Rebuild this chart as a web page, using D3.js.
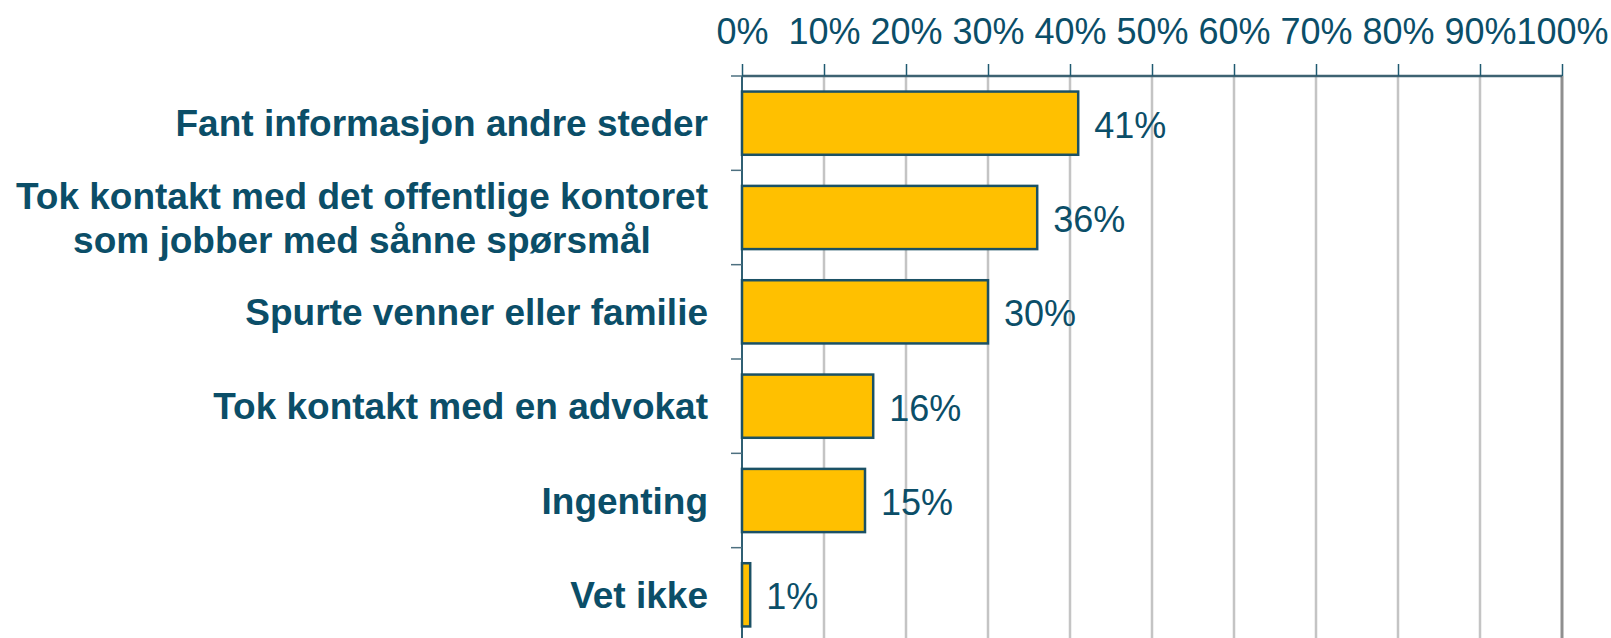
<!DOCTYPE html>
<html>
<head>
<meta charset="utf-8">
<script src="https://cdn.jsdelivr.net/npm/d3@7"></script>
<style>
    body { margin: 0; background: #ffffff; }
    svg { display: block; font-family: "Liberation Sans", Arial, sans-serif; }
</style>
</head>
<body>
<div id="chart"></div>
<script>
// data
const categories = [
    "Fant informasjon andre steder",
    "Tok kontakt med det offentlige kontoret\nsom jobber med sånne spørsmål",
    "Spurte venner eller familie",
    "Tok kontakt med en advokat",
    "Ingenting",
    "Vet ikke"
];
const values = [41, 36, 30, 16, 15, 1];
const tickValues = [0, 10, 20, 30, 40, 50, 60, 70, 80, 90, 100];

const width = 1611, height = 638;
const textColor = "#0b4e68";

var svg = d3.select("#chart")
    .append("svg")
    .attr("width", width)
    .attr("height", height);

var x = d3.scaleLinear()
    .domain([0, 100])
    .range([742, 1562]);

var y = d3.scaleBand()
    .domain(categories)
    .range([76, 642])
    .paddingInner(0.33)
    .paddingOuter(0.165);

// vertical gridlines
svg.append("g")
    .selectAll("line")
    .data(tickValues.slice(1))
    .enter()
    .append("line")
    .attr("x1", d => x(d))
    .attr("x2", d => x(d))
    .attr("y1", y.range()[0])
    .attr("y2", height)
    .style("stroke", d => d == 100 ? "#8f8f8f" : "#c4c4c4")
    .style("stroke-width", d => d == 100 ? 3 : 2.5);

// top axis
var xAxis = d3.axisTop(x)
    .tickValues(tickValues)
    .tickSize(12)
    .tickPadding(20)
    .tickFormat(d => d + "%");

var gx = svg.append("g")
    .attr("transform", "translate(0," + y.range()[0] + ")")
    .call(xAxis);
gx.select(".domain")
    .attr("d", "M" + x(0) + ",0H" + x(100))
    .style("stroke", "#3d6272")
    .style("stroke-width", 2.5);
gx.selectAll(".tick line")
    .style("stroke", "#1f5a70")
    .style("stroke-width", 1.5);
gx.selectAll(".tick text")
    .style("font-size", "36px")
    .style("font-family", "Liberation Sans, Arial, sans-serif")
    .style("fill", textColor);

// left axis line and category ticks between bands
var step = y.step();
var bounds = d3.range(categories.length + 1).map(i => y.range()[0] + i * step);

svg.append("line")
    .attr("x1", x(0))
    .attr("x2", x(0))
    .attr("y1", y.range()[0])
    .attr("y2", height)
    .style("stroke", "#2f5f73")
    .style("stroke-width", 2);

svg.append("g")
    .selectAll("line")
    .data(bounds)
    .enter()
    .append("line")
    .attr("x1", x(0) - 11)
    .attr("x2", x(0))
    .attr("y1", d => d)
    .attr("y2", d => d)
    .style("stroke", "#4d7080")
    .style("stroke-width", 1.5);

// bars
svg.append("g")
    .selectAll("rect")
    .data(categories)
    .enter()
    .append("rect")
    .attr("x", x(0))
    .attr("y", d => y(d))
    .attr("width", (d, i) => x(values[i]) - x(0))
    .attr("height", y.bandwidth())
    .style("fill", "#ffc000")
    .style("stroke", "#1b5165")
    .style("stroke-width", 2.5);

// value labels
svg.append("g")
    .selectAll("text")
    .data(categories)
    .enter()
    .append("text")
    .attr("x", (d, i) => x(values[i]) + 16)
    .attr("y", d => y(d) + y.bandwidth() / 2)
    .attr("dy", "0.4em")
    .style("font-size", "36px")
    .style("fill", textColor)
    .text((d, i) => values[i] + "%");

// category labels, multi-line ones centred as a block that ends at labelRight
const labelRight = 708;
const lineHeight = 43.5;
var labels = svg.append("g")
    .selectAll("text")
    .data(categories)
    .enter()
    .append("text")
    .attr("text-anchor", "middle")
    .style("font-size", "37px")
    .style("font-weight", "bold")
    .style("fill", textColor);

labels.each(function (d) {
    let lines = d.split("\n");
    let t = d3.select(this);
    let cy = y(d) + y.bandwidth() / 2;
    lines.forEach(function (line, k) {
        t.append("tspan")
            .attr("y", cy + (k - (lines.length - 1) / 2) * lineHeight)
            .attr("dy", "0.36em")
            .text(line);
    });
    let maxW = 0;
    t.selectAll("tspan").each(function () {
        maxW = Math.max(maxW, this.getComputedTextLength());
    });
    t.selectAll("tspan").attr("x", labelRight - maxW / 2);
});
</script>
</body>
</html>
